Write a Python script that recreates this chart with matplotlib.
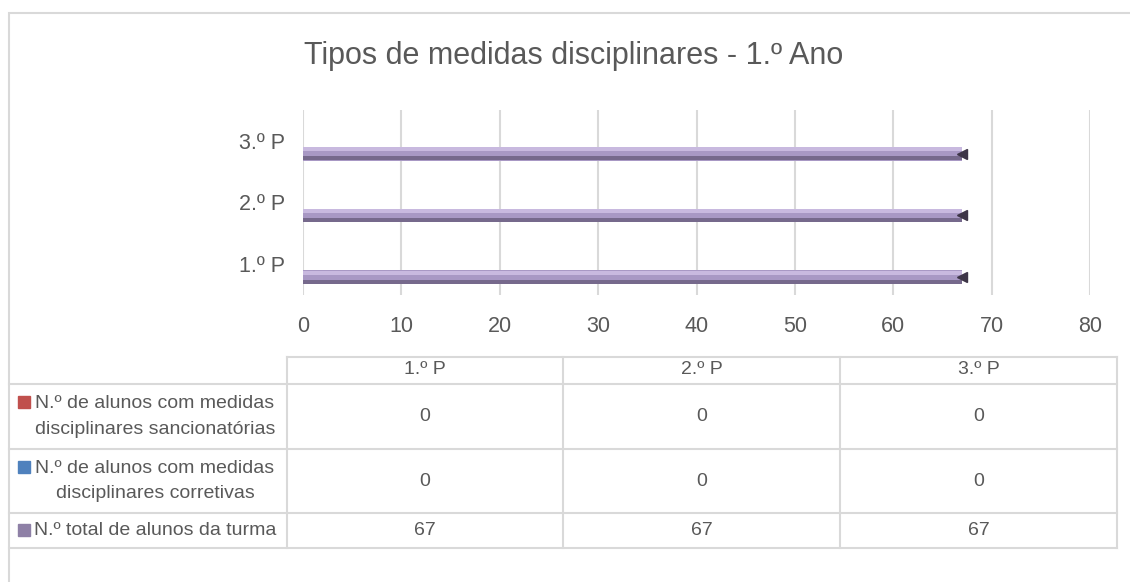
import matplotlib
matplotlib.use("Agg")
import matplotlib.pyplot as plt
from matplotlib import font_manager
from matplotlib.patches import Rectangle
from matplotlib.lines import Line2D
import numpy as np

# Data
periods = ["1.º P", "2.º P", "3.º P"]
series_names = ["N.º de alunos com medidas\ndisciplinares sancionatórias",
                "N.º de alunos com medidas\ndisciplinares corretivas",
                "N.º total de alunos da turma"]
sancionatorias = [0, 0, 0]
corretivas = [0, 0, 0]
total_alunos = [67, 67, 67]
series_values = [sancionatorias, corretivas, total_alunos]
series_colors = ["#c0504d", "#4f81bd", "#a898c4"]

names = {f.name for f in font_manager.fontManager.ttflist}
font = "Liberation Sans Narrow" if "Liberation Sans Narrow" in names else "Liberation Sans"
plt.rcParams["font.family"] = [font, "DejaVu Sans"]
txt_color = "#595959"
grid_color = "#d9d9d9"

W, H = 1130, 582
fig = plt.figure(figsize=(W / 100, H / 100), dpi=100)

def fx(px):
    return px / W

def fy(py):
    return 1 - py / H

# outer border
fig.add_artist(Rectangle((fx(9), fy(600)), fx(1140) - fx(9), fy(13) - fy(600),
                         transform=fig.transFigure, fill=False, edgecolor=grid_color, lw=1.5))

fig.text(fx(574), fy(56), "Tipos de medidas disciplinares - 1.º Ano", ha="center", va="center",
         fontsize=22, color=txt_color)

ax = fig.add_axes([fx(303), fy(295), fx(1090) - fx(303), fy(110) - fy(295)])
y = np.arange(len(periods))
bh = 0.225
offsets = [-0.21, 0.0, 0.21]
for vals, col, off in zip(series_values, series_colors, offsets):
    pos = y - off
    ax.barh(pos, vals, height=bh, color=col, zorder=3)
# bevel shading on the total bars
pos = y - offsets[2]
ax.barh(pos + bh * 0.32, total_alunos, height=bh * 0.3, color="#c8b9df", zorder=4)
ax.barh(pos - bh * 0.33, total_alunos, height=bh * 0.3, color="#76698c", zorder=4)
ax.plot(total_alunos, pos, marker="<", color="#3d3547", markersize=7, ls="none", zorder=5)

ax.set_xlim(0, 80)
ax.set_ylim(-0.5, 2.5)
ax.set_xticks(np.arange(0, 81, 10))
ax.set_yticks(y)
ax.set_yticklabels(periods)
ax.tick_params(length=0, labelsize=15.5, labelcolor=txt_color)
ax.tick_params(axis="x", pad=15)
ax.tick_params(axis="y", pad=13)
ax.grid(axis="x", color=grid_color, lw=1.5, zorder=0)
for s in ax.spines.values():
    s.set_visible(False)

# data table
col_x = [287, 563, 840, 1117]
row_y = [357, 384, 449, 513, 548]
line_kw = dict(color=grid_color, lw=1.5)
fig.add_artist(Line2D([fx(287), fx(1117)], [fy(357), fy(357)], **line_kw))
for ry in row_y[1:]:
    fig.add_artist(Line2D([fx(9), fx(1117)], [fy(ry), fy(ry)], **line_kw))
for cx in col_x:
    fig.add_artist(Line2D([fx(cx), fx(cx)], [fy(357), fy(548)], **line_kw))

tsize = 14
for i, p in enumerate(periods):
    cx = (col_x[i] + col_x[i + 1]) / 2
    fig.text(fx(cx), fy(370), p, ha="center", va="center", fontsize=tsize, color=txt_color)
    for r, vals in enumerate(series_values):
        cy = (row_y[r + 1] + row_y[r + 2]) / 2
        fig.text(fx(cx), fy(cy), str(vals[i]), ha="center", va="center", fontsize=tsize, color=txt_color)

key_y = [402, 467, 530]
key_colors = ["#c0504d", "#4f81bd", "#8e80a6"]
for r, (name, col) in enumerate(zip(series_names, key_colors)):
    cy = (row_y[r + 1] + row_y[r + 2]) / 2
    fig.text(fx(155), fy(cy), name, ha="center", va="center", fontsize=tsize, color=txt_color,
             multialignment="center", linespacing=1.65)
    fig.add_artist(Rectangle((fx(18), fy(key_y[r] + 6)), fx(12), fy(0) - fy(12),
                             transform=fig.transFigure, color=col))

fig.savefig("out.png", dpi=100)
